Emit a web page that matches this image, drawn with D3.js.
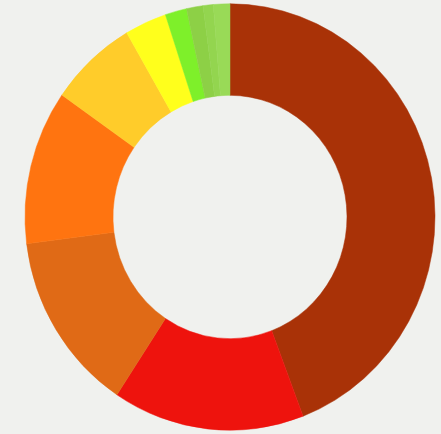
<!DOCTYPE html>
<html>
<head>
<meta charset="utf-8">
<script src="https://cdn.jsdelivr.net/npm/d3@7"></script>
<style>
  html, body { margin: 0; padding: 0; background: #f0f1ee; }
  svg { display: block; }
</style>
</head>
<body>
<svg id="chart" width="441" height="434"></svg>
<script>
// slice shares, clockwise from 12 o'clock
var slices = ['s1', 's2', 's3', 's4', 's5', 's6', 's7', 's8', 's9', 's10'];
var values = [44.2, 15.1, 13.7, 11.7, 6.9, 3.3, 1.7, 1.3, 0.8, 1.3];
var colors = ['#a93207', '#ee130d', '#e06a16', '#ff7410', '#ffcc2a', '#ffff1c', '#7ef02a', '#8dd046', '#93d54f', '#99da57'];

var svg = d3.select('#chart');

var pie = d3.pie()
    .sort(null)
    .value(function(d) { return d.value });

var arc = d3.arc()
    .innerRadius(117)
    .outerRadius(205);

var data = slices.map(function(s, i) {
    return { name: s, value: values[i], color: colors[i] };
});

// picture is stretched slightly in height
var g = svg.append('g')
    .attr('transform', 'translate(230,217) scale(1,1.04)');

g.selectAll('path.slice')
    .data(pie(data))
  .enter().append('path')
    .attr('class', 'slice')
    .attr('d', arc)
    .attr('fill', function(d) { return d.data.color })
    .attr('stroke', function(d) { return d.data.color })
    .attr('stroke-width', 0.5);
</script>
</body>
</html>
